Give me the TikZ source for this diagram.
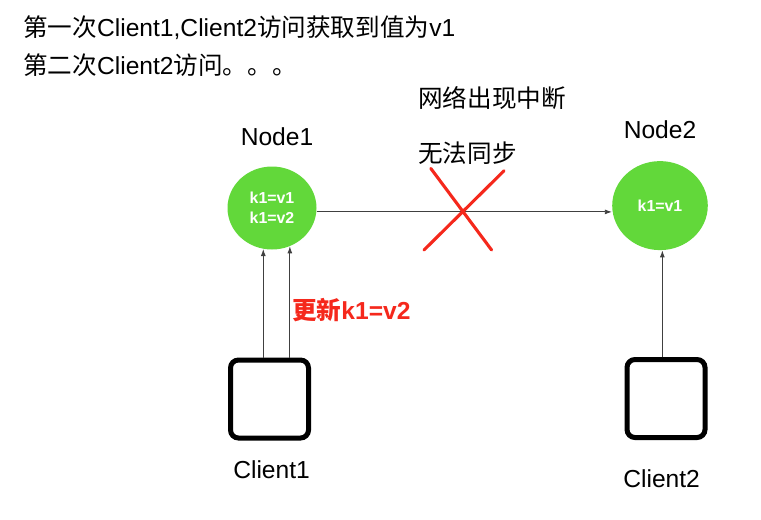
\documentclass[tikz,border=0pt]{standalone}
\usepackage{fontspec}
\setmainfont{Liberation Sans}
\newfontfamily\cjk{Noto Sans CJK SC}
\usetikzlibrary{arrows.meta,shapes.geometric}
\definecolor{nodegreen}{RGB}{98,216,58}
\definecolor{crossred}{RGB}{245,40,28}

\begin{document}
\begin{tikzpicture}[>={Latex[length=5pt,width=3.5pt]}, font=\fontsize{17.5}{20}\selectfont,
  server/.style={ellipse, fill=nodegreen, text=white, align=center, inner sep=0pt,
    font=\fontsize{11.3}{14}\selectfont\bfseries},
  client/.style={draw, rounded corners=0.2cm, line width=0.125cm, minimum size=1.95cm},
  link/.style={->, draw=black!75, line width=0.6pt}]
  \useasboundingbox (0,0) rectangle (19.025,-12.975);
  % notes at the top
  \node (t1) at (0.575,-0.7) [anchor=west, inner sep=0pt]
    {{\cjk 第一次}Client1,Client2{\cjk 访问获取到值为}v1};
  \node (t2) at (0.575,-1.625) [anchor=west, inner sep=0pt]
    {{\cjk 第二次}Client2{\cjk 访问。。。}};
  \node (net) at (10.45,-2.45) [anchor=west, inner sep=0pt] {\cjk 网络出现中断};
  \node (sync) at (10.45,-3.825) [anchor=west, inner sep=0pt] {\cjk 无法同步};
  % the two nodes
  \node (l1) at (6.925,-3.425) {Node1};
  \node (l2) at (16.5,-3.25) {Node2};
  \node (n1) at (6.8,-5.2) [server, minimum width=2.225cm, minimum height=2.075cm]
    {k1=v1\\k1=v2};
  \node (n2) at (16.5,-5.14) [server, minimum width=2.39cm, minimum height=2.225cm] {k1=v1};
  \draw[link] (n1.-5) -- (n2.west |- n1.-5);
  % broken link
  \draw[crossred, line width=2.2pt, line cap=round]
    (10.77,-4.21) -- (12.29,-6.25)
    (12.6,-4.27) -- (10.6,-6.25);
  % the clients
  \node (c1) at (6.7375,-9.975) [client] {};
  \node (c2) at (16.65,-9.9625) [client] {};
  \node (cl1) at (6.79,-11.75) {Client1};
  \node (cl2) at (16.54,-11.975) {Client2};
  \draw[link] (n1.258 |- c1.north) -- (n1.258);
  \draw[link] (n1.295 |- c1.north) -- (n1.295);
  \draw[link] (n2.273 |- c2.north) -- (n2.273);
  \node (upd) at (7.3,-7.76) [anchor=west, inner sep=0pt, text=crossred, font=\fontsize{17.5}{20}\selectfont\bfseries]
    {{\cjk 更新}k1=v2};
\end{tikzpicture}
\end{document}
